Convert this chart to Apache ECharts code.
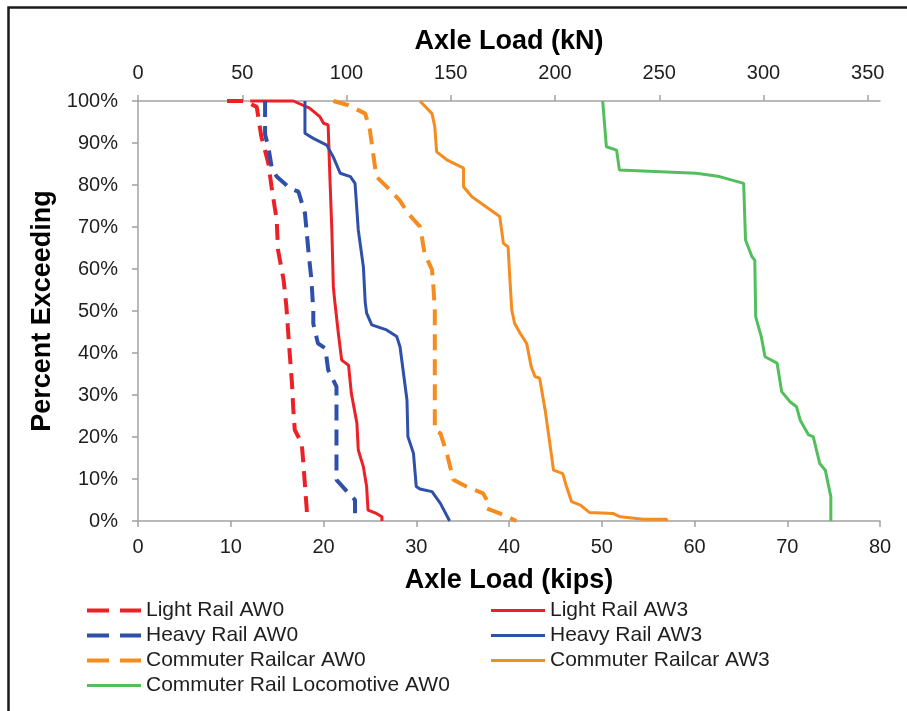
<!DOCTYPE html>
<html>
<head>
<meta charset="utf-8">
<script src="https://cdn.jsdelivr.net/npm/echarts@6/dist/echarts.min.js"></script>
<style>
html,body{margin:0;padding:0;background:#fff;}
#chart{width:907px;height:711px;}
</style>
</head>
<body>
<div id="chart"></div>
<script>
// ---- data (x = axle load in kips, y = percent exceeding) ----
const kipTicks = [0, 10, 20, 30, 40, 50, 60, 70, 80];
const kNTicks = [0, 50, 100, 150, 200, 250, 300, 350];
const pctTicks = [0, 10, 20, 30, 40, 50, 60, 70, 80, 90, 100];
const KN_PER_KIP = 4.448222;

const seriesNames = [
  'Light Rail AW0', 'Light Rail AW3',
  'Heavy Rail AW0', 'Heavy Rail AW3',
  'Commuter Railcar AW0', 'Commuter Railcar AW3',
  'Commuter Rail Locomotive AW0'
];

const lightRailAW0 = [[9.6,100],[11.5,100],[12.8,98.6],[13.3,91.5],[14.05,85.2],[14.4,79.6],[14.95,71.7],[15.1,64.5],[15.7,57.4],[16.0,51],[16.3,41.5],[16.6,32.8],[16.75,26.4],[16.9,21.7],[17.65,18.5],[17.8,14.5],[18.2,2.6],[18.2,0]];
const lightRailAW3 = [[12.1,100],[16.75,100],[18.5,98.3],[19.6,96.3],[20.0,94.7],[20.5,94.3],[20.7,81.2],[20.9,69.3],[21.06,55.8],[21.2,52.6],[21.6,44.7],[21.96,38.3],[22.7,37.1],[23.0,30.4],[23.6,23.3],[23.75,16.9],[24.3,12.9],[24.65,8.2],[24.8,2.6],[25.7,1.8],[26.3,1.0],[26.3,0]];
const heavyRailAW0 = [[13.7,100],[13.7,92],[14.05,89.1],[14.4,84.4],[14.95,82],[16.4,79.2],[17.3,78.4],[18.0,73.3],[18.4,63.7],[18.7,57.4],[18.9,50],[18.9,47],[19.4,42.3],[20.2,41.1],[20.5,36],[21.4,32],[21.4,9.8],[22.7,6.6],[23.4,5],[23.4,0]];
const heavyRailAW3 = [[18.0,100],[18.0,92.3],[18.9,91.1],[20.35,89.5],[21.05,86.7],[21.8,82.8],[22.9,82],[23.4,80.4],[23.75,69.3],[24.3,60.5],[24.5,52],[24.65,49.5],[25.2,46.7],[26.8,45.5],[27.9,43.9],[28.25,41.5],[29.0,28.8],[29.1,20.1],[29.7,16.1],[30.0,8.2],[30.4,7.6],[31.7,7],[32.6,4.2],[33.6,0]];
const commuterRailcarAW0 = [[21.06,100],[22.7,99],[24.5,97],[25.0,93.1],[25.7,82],[26.8,79.6],[28.2,76.4],[29.1,73.3],[30.4,70.1],[30.6,67.7],[30.9,63.7],[31.7,59.8],[31.85,55.8],[32.0,50.2],[32.0,21.5],[32.6,20.9],[33.3,16.1],[34.0,9.8],[35.4,8.2],[37.2,6.6],[37.6,5],[37.6,3],[39.0,1.8],[40.8,0]];
const commuterRailcarAW3 = [[30.4,100],[31.7,97],[32.0,93.9],[32.2,87.9],[33.3,86],[35.1,84],[35.1,79.6],[36.0,77.2],[39.0,72.5],[39.4,66.1],[39.9,65.3],[40.1,57.4],[40.3,50.2],[40.6,47.1],[41.2,44.7],[41.9,42.3],[42.4,36.7],[42.8,34.4],[43.3,34],[43.9,26.4],[44.4,18.5],[44.8,12.1],[45.8,11.3],[46.2,8.2],[46.75,4.6],[47.7,3.8],[48.7,2.0],[51.2,1.8],[52.0,1.0],[54.5,0.4],[57.0,0.4],[57.0,0]];
const locomotiveAW0 = [[50.1,100],[50.5,89.1],[51.6,88.3],[51.9,83.6],[60.2,82.8],[62.7,82],[65.3,80.4],[65.5,66.9],[66.2,62.9],[66.5,62.1],[66.6,48.6],[67.2,43.9],[67.6,39.1],[68.9,37.6],[69.4,30.8],[70.3,28.4],[71.0,27.2],[71.4,24],[72.3,20.5],[72.8,20.1],[73.5,13.7],[74.1,12.1],[74.7,5.8],[74.7,0]];

// ---- styling ----
const RED = '#ee2027', BLUE = '#2f50aa', ORANGE = '#f68b1f', GREEN = '#52bf5c';
const FONT = "'Liberation Sans', Arial, sans-serif";
const TXT = '#1e1e1e';
const AXIS = '#a3a3a3';
const DASH = [16, 9];
const ICON_DASHED = 'path://M0,0h22v4h-22zM33,0h21v4h-21z';
const ICON_SOLID = 'path://M0,0h54v3h-54z';

function mk(name, data, color, dashed) {
  return {
    name: name, type: 'line', data: data, xAxisIndex: 0, yAxisIndex: 0,
    symbol: 'none', showSymbol: false, clip: false, animation: false,
    lineStyle: { color: color, width: dashed ? 4 : 3, type: dashed ? DASH : 'solid' },
    itemStyle: { color: color }
  };
}

function legItem(name, color, dashed) {
  return { name: name, icon: dashed ? ICON_DASHED : ICON_SOLID, itemStyle: { color: color, opacity: 1 } };
}

const chart = echarts.init(document.getElementById('chart'), null, { renderer: 'canvas' });
const legendCommon = {
  orient: 'vertical', itemWidth: 54, itemHeight: 14, itemGap: 4, padding: 0,
  selectedMode: false, symbolKeepAspect: true,
  textStyle: { fontFamily: FONT, fontSize: 21, color: TXT }
};
chart.setOption({
  animation: false,
  backgroundColor: '#fff',
  textStyle: { fontFamily: FONT },
  graphic: [{
    type: 'rect', silent: true,
    shape: { x: 8.5, y: 7.5, width: 1000, height: 1000 },
    style: { fill: 'none', stroke: '#1a1a1a', lineWidth: 2.5 }
  }],
  grid: { left: 138, right: 27, top: 101, bottom: 190, containLabel: false },
  legend: [
    Object.assign({}, legendCommon, {
      left: 87, top: 600,
      data: [legItem(seriesNames[0], RED, true), legItem(seriesNames[2], BLUE, true),
             legItem(seriesNames[4], ORANGE, true), legItem(seriesNames[6], GREEN, false)]
    }),
    Object.assign({}, legendCommon, {
      left: 491, top: 600,
      data: [legItem(seriesNames[1], RED, false), legItem(seriesNames[3], BLUE, false),
             legItem(seriesNames[5], ORANGE, false)]
    })
  ],
  xAxis: [{
    type: 'value', position: 'bottom', min: kipTicks[0], max: kipTicks[kipTicks.length - 1], interval: 10,
    name: 'Axle Load (kips)', nameLocation: 'middle', nameGap: 46,
    nameTextStyle: { fontFamily: FONT, fontSize: 27, fontWeight: 'bold', color: '#000' },
    axisLine: { show: true, onZero: false, lineStyle: { color: AXIS, width: 1.5 } },
    axisTick: { show: true, length: 6, lineStyle: { color: AXIS, width: 1.5 } },
    axisLabel: { margin: 16, fontFamily: FONT, fontSize: 20, color: TXT },
    splitLine: { show: false }
  }, {
    type: 'value', position: 'top', min: 0, max: kipTicks[kipTicks.length - 1] * KN_PER_KIP,
    name: 'Axle Load (kN)', nameLocation: 'middle', nameGap: 46,
    nameTextStyle: { fontFamily: FONT, fontSize: 27, fontWeight: 'bold', color: '#000' },
    axisLine: { show: true, onZero: false, lineStyle: { color: AXIS, width: 1.5 } },
    axisTick: { show: true, length: 6, customValues: kNTicks, lineStyle: { color: AXIS, width: 1.5 } },
    axisLabel: { margin: 18, customValues: kNTicks, fontFamily: FONT, fontSize: 20, color: TXT },
    splitLine: { show: false }
  }],
  yAxis: [{
    type: 'value', min: pctTicks[0], max: pctTicks[pctTicks.length - 1], interval: 10,
    name: 'Percent Exceeding', nameLocation: 'middle', nameGap: 78,
    nameTextStyle: { fontFamily: FONT, fontSize: 27, fontWeight: 'bold', color: '#000' },
    axisLine: { show: true, onZero: false, lineStyle: { color: AXIS, width: 1.5 } },
    axisTick: { show: true, length: 6, lineStyle: { color: AXIS, width: 1.5 } },
    axisLabel: { margin: 20, formatter: '{value}%', fontFamily: FONT, fontSize: 20, color: TXT },
    splitLine: { show: false }
  }],
  series: [
    mk(seriesNames[0], lightRailAW0, RED, true),
    mk(seriesNames[1], lightRailAW3, RED, false),
    mk(seriesNames[2], heavyRailAW0, BLUE, true),
    mk(seriesNames[3], heavyRailAW3, BLUE, false),
    mk(seriesNames[4], commuterRailcarAW0, ORANGE, true),
    mk(seriesNames[5], commuterRailcarAW3, ORANGE, false),
    mk(seriesNames[6], locomotiveAW0, GREEN, false)
  ]
});
</script>
</body>
</html>
